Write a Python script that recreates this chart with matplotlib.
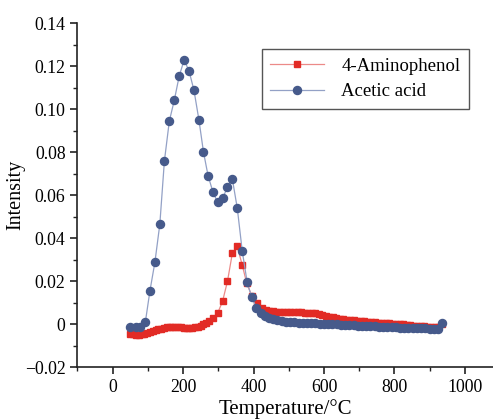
import matplotlib

matplotlib.use("Agg")
import matplotlib.pyplot as plt
from matplotlib.ticker import MultipleLocator

plt.rcParams["font.family"] = ["Liberation Serif", "DejaVu Serif"]

# Acetic acid (blue circles)
acid_T = [50, 65, 79, 93, 106, 120, 134, 147, 161, 175, 189, 203, 217, 231,
          245, 258, 271, 285, 298, 312, 326, 340, 354, 368, 382, 395, 408,
          420, 432, 444, 456, 468, 480, 492, 504, 516, 528, 540, 552, 564,
          576, 588, 600, 612, 624, 636, 648, 660, 672, 684, 696, 708, 720,
          732, 744, 756, 768, 780, 792, 804, 816, 828, 840, 852, 864, 876,
          888, 900, 912, 924, 935]
acid_I = [-0.0013, -0.0013, -0.0013, 0.001, 0.0155, 0.0287, 0.0464, 0.0758,
          0.0944, 0.104, 0.1153, 0.1228, 0.1177, 0.1087, 0.095, 0.080, 0.069,
          0.0613, 0.0567, 0.0584, 0.0636, 0.0674, 0.0538, 0.034, 0.0194,
          0.0124, 0.0076, 0.0052, 0.0038, 0.0029, 0.0022, 0.0017, 0.0013,
          0.0011, 0.0009, 0.0008, 0.0007, 0.0006, 0.0005, 0.0004, 0.0003,
          0.0002, 0.0001, 0.0, -0.0001, -0.0002, -0.0003, -0.0004, -0.0005,
          -0.0006, -0.0007, -0.0008, -0.0009, -0.001, -0.0011, -0.0012,
          -0.0013, -0.0014, -0.0015, -0.0016, -0.0017, -0.0017, -0.0018,
          -0.0018, -0.0019, -0.002, -0.002, -0.0021, -0.0021, -0.0022, 0.0003]

# 4-Aminophenol (red squares)
amino_T = [50, 58, 66, 74, 82, 90, 98, 106, 114, 122, 130, 138, 146, 154,
           162, 170, 178, 186, 194, 202, 210, 218, 226, 234, 242, 250, 258,
           266, 274, 285, 298, 312, 326, 340, 354, 368, 381, 395, 410, 425,
           435, 445, 455, 465, 475, 485, 495, 505, 515, 525, 535, 545, 555,
           565, 575, 585, 595, 605, 615, 625, 635, 645, 655, 665, 675, 685,
           695, 705, 715, 725, 735, 745, 755, 765, 775, 785, 795, 805, 815,
           825, 835, 845, 855, 865, 875, 885, 895, 905, 915, 925, 935]
amino_I = [-0.0047, -0.0048, -0.0049, -0.0049, -0.0047, -0.0044, -0.0041,
           -0.0037, -0.0033, -0.0029, -0.0025, -0.0021, -0.0018, -0.0015,
           -0.0013, -0.0012, -0.0012, -0.0013, -0.0015, -0.0017, -0.0019,
           -0.002, -0.0019, -0.0016, -0.0012, -0.0007, -0.0002, 0.0004,
           0.0012, 0.0026, 0.005, 0.0105, 0.0198, 0.033, 0.0361, 0.0274,
           0.0189, 0.0132, 0.0096, 0.0074, 0.0066, 0.0062, 0.0059, 0.0057,
           0.0056, 0.0055, 0.0055, 0.0054, 0.0054, 0.0054, 0.0054, 0.0053,
           0.0053, 0.0052, 0.005, 0.0047, 0.0043, 0.0039, 0.0035, 0.0031,
           0.0028, 0.0025, 0.0023, 0.0021, 0.0019, 0.0017, 0.0015, 0.0013,
           0.0012, 0.001, 0.0009, 0.0008, 0.0007, 0.0005, 0.0004, 0.0003,
           0.0002, 0.0001, 0.0, -0.0002, -0.0004, -0.0006, -0.0007, -0.0009,
           -0.001, -0.0011, -0.0012, -0.0013, -0.0014, -0.0015, 0.0002]

fig = plt.figure(figsize=(4.93, 4.19), dpi=100)
ax = fig.add_axes([0.157, 0.124, 0.843, 0.821])

ax.plot(amino_T, amino_I, "-s", color="#ec8a88", linewidth=0.9,
        markersize=4.3, markerfacecolor="#e22b25", markeredgecolor="#e22b25",
        label="4-Aminophenol")
ax.plot(acid_T, acid_I, "-o", color="#93a1c6", linewidth=0.9,
        markersize=5.8, markerfacecolor="#465a8b", markeredgecolor="#465a8b",
        label="Acetic acid")

ax.set_xlim(-100, 1080)
ax.set_ylim(-0.02, 0.14)
ax.xaxis.set_major_locator(MultipleLocator(200))
ax.xaxis.set_minor_locator(MultipleLocator(100))
ax.yaxis.set_major_locator(MultipleLocator(0.02))
ax.yaxis.set_minor_locator(MultipleLocator(0.01))
ax.set_yticks([-0.02, 0, 0.02, 0.04, 0.06, 0.08, 0.10, 0.12, 0.14])
ax.set_yticklabels(["\u22120.02", "0", "0.02", "0.04", "0.06", "0.08",
                    "0.10", "0.12", "0.14"])

for s in ["top", "right"]:
    ax.spines[s].set_visible(False)
for s in ["left", "bottom"]:
    ax.spines[s].set_color("#222222")
    ax.spines[s].set_linewidth(1.2)
ax.tick_params(which="both", direction="out", labelsize=12.8, color="#222222")
ax.tick_params(which="major", length=5, width=1.2)
ax.tick_params(which="minor", length=3, width=1.0)

ax.set_xlabel("Temperature/\u00b0C", fontsize=15, labelpad=2)
ax.set_ylabel("Intensity", fontsize=14.5, labelpad=0)

leg = ax.legend(loc="upper left", bbox_to_anchor=(0.443, 0.924), fontsize=13.5,
                fancybox=False, edgecolor="#555555", framealpha=1,
                handlelength=2.9, handletextpad=0.9, borderpad=0.45,
                labelspacing=0.45, borderaxespad=0)
leg.get_frame().set_linewidth(1.0)

fig.savefig("out.png", dpi=100)
